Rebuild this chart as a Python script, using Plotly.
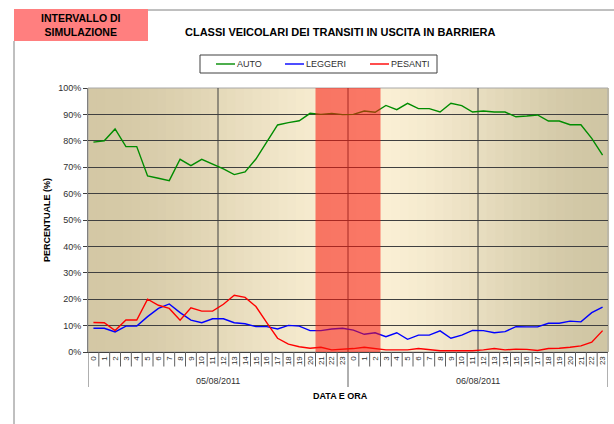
import plotly.graph_objects as go

# Dati: percentuali per ora (05/08/2011 e 06/08/2011)
giorni = ["05/08/2011", "06/08/2011"]
ore = list(range(24)) * 2

auto = [79.5, 80.0, 84.5, 77.8, 77.8, 66.7, 65.8, 64.9, 73.0, 70.6, 73.0, 71.3,
        69.4, 67.2, 68.2, 73.1, 79.7, 86.0, 86.9, 87.6, 90.4, 90.0, 90.4, 89.9,
        90.0, 91.3, 90.8, 93.4, 91.8, 94.2, 92.2, 92.2, 90.9, 94.2, 93.3, 90.9,
        91.3, 90.9, 90.9, 89.1, 89.4, 89.8, 87.5, 87.5, 86.1, 86.1, 80.9, 74.6]
leggeri = [9.0, 9.0, 7.6, 9.8, 9.8, 13.4, 16.5, 18.2, 14.9, 12.1, 11.1, 12.6,
           12.6, 11.1, 10.7, 9.6, 9.6, 8.7, 10.1, 9.8, 8.1, 8.1, 8.7, 9.0,
           8.3, 6.7, 7.3, 5.8, 7.3, 4.8, 6.4, 6.4, 8.0, 5.2, 6.4, 8.2,
           8.1, 7.3, 7.7, 9.6, 9.5, 9.5, 10.9, 10.9, 11.7, 11.4, 14.9, 17.0]
pesanti = [11.2, 11.1, 8.1, 12.1, 12.1, 20.0, 17.7, 16.5, 12.0, 16.7, 15.5, 15.5,
           18.1, 21.5, 20.7, 17.2, 11.1, 5.2, 3.0, 2.0, 1.4, 1.8, 0.8, 1.0,
           1.3, 1.8, 1.3, 0.8, 0.8, 0.8, 1.3, 0.9, 0.5, 0.5, 0.5, 0.5,
           0.8, 1.3, 0.8, 1.1, 1.0, 0.6, 1.3, 1.4, 1.8, 2.3, 3.7, 8.1]

serie = ["AUTO", "LEGGERI", "PESANTI"]
colori = ["rgb(0,140,0)", "rgb(0,0,255)", "rgb(255,0,0)"]

# intervallo di simulazione: ore 21-23 del primo giorno, 0-2 del secondo
sim_inizio, sim_fine = 21, 26

FONT = "Arial, Liberation Sans, sans-serif"
L, R, T, B = 88, 6, 88, 72
W, H = 614, 424


def px(x):
    return (x - L) / (W - L - R)


def py(y):
    return (H - B - y) / (H - T - B)


x = list(range(len(ore)))

fig = go.Figure()
for nome, valori, col in zip(serie, [auto, leggeri, pesanti], colori):
    fig.add_trace(go.Scatter(x=x, y=valori, name=nome, mode="lines",
                             line=dict(color=col, width=1.4), showlegend=False))

shapes = []

# sfondo sfumato stile Excel
c_sx, c_mid, c_dx = (212, 200, 165), (250, 239, 212), (208, 198, 164)
n = 60
for k in range(n):
    t = (k + 0.5) / n
    if t < 0.55:
        a, b, u = c_sx, c_mid, t / 0.55
    else:
        a, b, u = c_mid, c_dx, (t - 0.55) / 0.45
    u = u * u * (3 - 2 * u)
    col = tuple(round(a[i] + (b[i] - a[i]) * u) for i in range(3))
    shapes.append(dict(type="rect", xref="paper", yref="paper", layer="below",
                       x0=k / n, x1=(k + 1) / n + 0.002, y0=0, y1=1,
                       line=dict(width=0), fillcolor="rgb(%d,%d,%d)" % col))

# bordo area del grafico
shapes.append(dict(type="rect", xref="paper", yref="paper", layer="below",
                   x0=0, x1=1, y0=0, y1=1, line=dict(color="#a8a8a8", width=1)))

# griglia verticale ogni 12 ore
for g in (11.5, 23.5, 35.5):
    shapes.append(dict(type="line", xref="x", yref="paper", layer="below",
                       x0=g, x1=g, y0=0, y1=1, line=dict(color="#404040", width=1)))

# separatori tra le etichette delle ore
for i in range(len(ore) + 1):
    big = i % 24 == 0
    shapes.append(dict(type="line", xref="x", yref="paper",
                       x0=i - 0.5, x1=i - 0.5, y0=0,
                       y1=py(387) if big else py(366.5),
                       line=dict(color="#606060", width=1)))

# intervallo di simulazione
shapes.append(dict(type="rect", xref="x", yref="paper", layer="above",
                   x0=sim_inizio - 0.5, x1=sim_fine + 0.5, y0=0, y1=1,
                   line=dict(width=0), fillcolor="rgba(250,20,10,0.55)"))

# riquadro in alto a sinistra e bordo esterno
shapes.append(dict(type="rect", xref="paper", yref="paper",
                   x0=px(14), x1=px(148), y0=py(41), y1=py(9),
                   line=dict(width=0), fillcolor="rgba(255,0,0,0.5)"))
shapes.append(dict(type="line", xref="paper", yref="paper",
                   x0=px(148), x1=px(614), y0=py(10), y1=py(10),
                   line=dict(color="#808080", width=1)))
shapes.append(dict(type="line", xref="paper", yref="paper",
                   x0=px(14), x1=px(14), y0=py(41), y1=py(424),
                   line=dict(color="#808080", width=1)))

# legenda disegnata a mano (stile Excel)
shapes.append(dict(type="rect", xref="paper", yref="paper",
                   x0=px(200), x1=px(437), y0=py(73), y1=py(55),
                   line=dict(color="#404040", width=1), fillcolor="white"))
leg_x = [216, 285, 370]

annotations = [
    dict(text="<b>INTERVALLO DI<br>SIMULAZIONE</b>", xref="paper", yref="paper",
         x=px(81), y=py(25), xanchor="center", yanchor="middle", showarrow=False,
         font=dict(size=10.5, color="#000"), align="center"),
    dict(text="<b>CLASSI VEICOLARI DEI TRANSITI IN USCITA IN BARRIERA</b>",
         xref="paper", yref="paper", x=px(340), y=py(32), xanchor="center",
         yanchor="middle", showarrow=False, font=dict(size=11, color="#000")),
    dict(text="<b>DATA E ORA</b>", xref="paper", yref="paper",
         x=px(340), y=py(396), xanchor="center", yanchor="middle",
         showarrow=False, font=dict(size=9, color="#000")),
]
for j, g in enumerate(giorni):
    annotations.append(dict(text=g, xref="x", yref="paper", x=11.5 + 24 * j,
                            y=py(381), xanchor="center", yanchor="middle",
                            showarrow=False, font=dict(size=9, color="#303030")))
for lx, nome, col in zip(leg_x, serie, colori):
    shapes.append(dict(type="line", xref="paper", yref="paper",
                       x0=px(lx), x1=px(lx + 19), y0=py(64), y1=py(64),
                       line=dict(color=col, width=1.4)))
    annotations.append(dict(text=nome, xref="paper", yref="paper",
                            x=px(lx + 19), y=py(64), xanchor="left",
                            yanchor="middle", showarrow=False,
                            font=dict(size=9, color="#303030")))

fig.update_layout(
    width=W, height=H,
    margin=dict(l=L, r=R, t=T, b=B),
    paper_bgcolor="white",
    plot_bgcolor="rgb(240,230,200)",
    font=dict(family=FONT, size=9, color="#303030"),
    shapes=shapes,
    annotations=annotations,
    showlegend=False,
    xaxis=dict(range=[-0.5, len(ore) - 0.5], tickmode="array", tickvals=x,
               ticktext=[str(h) for h in ore], tickangle=-90, ticks="",
               showgrid=False, zeroline=False, showline=True,
               linecolor="#404040", tickfont=dict(size=8, color="#303030")),
    yaxis=dict(range=[0, 100], dtick=10, ticksuffix="%", ticks="outside",
               ticklen=4, tickcolor="#404040", showgrid=True,
               gridcolor="#404040", gridwidth=1, zeroline=False,
               showline=True, linecolor="#808080",
               title=dict(text="<b>PERCENTUALE (%)</b>",
                          font=dict(size=9, color="#000"), standoff=6)),
)

fig.write_html("out.html", config={"displayModeBar": False},
               post_script="document.body.style.margin='0';")
